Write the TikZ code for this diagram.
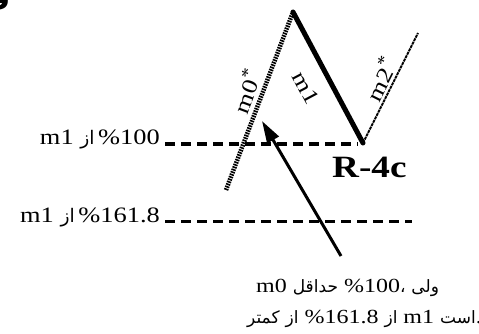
\documentclass[tikz,border=0pt]{standalone}
\usepackage{fontspec}
\setmainfont{Liberation Serif}[FakeStretch=1.2]
\newfontfamily\fa[Script=Arabic,Scale=0.85]{DejaVu Sans}
\usetikzlibrary{arrows.meta}
\newcommand{\bigstar}{\raisebox{0.42em}{\fontsize{17}{17}\selectfont *}}
\tikzset{
  txt/.style={inner sep=0pt, font=\fontsize{20}{24}\selectfont},
  lvl/.style={inner sep=0pt, font=\fontsize{22}{24}\selectfont},
  lbl/.style={inner sep=0pt, font=\fontsize{22}{24}\selectfont},
  dashln/.style={line width=3pt, dash pattern=on 10pt off 6pt},
  hatch/.style={line width=4.5pt, dash pattern=on 1.6pt off 1pt},
  thinhatch/.style={line width=2pt, dash pattern=on 3pt off 0.8pt},
  wave/.style={line width=5pt, line cap=round},
  pointer/.style={line width=3pt, -{Triangle[length=22pt,width=13pt]}}
}
\begin{document}
\begin{tikzpicture}[x=1pt,y=-1pt]
\useasboundingbox (0,0) rectangle (479,334);
% top-left fragment
\node[anchor=base west, inner sep=0pt, font=\fa\bfseries\fontsize{34}{34}\selectfont] (frag) at (-8,4) {و};
% wave points
\coordinate (s0) at (226,190);
\coordinate (p0) at (293,12);
\coordinate (r4) at (363,143);
\coordinate (e2) at (418,33);
\draw[hatch] (s0) -- (p0);
\draw[thinhatch] (r4) -- (e2);
\draw[wave] (p0) -- (r4);
% level labels
\node[lvl, anchor=base east] (lv1) at (160,145) {m1 {\fa از}\,\%100};
\node[lvl, anchor=base east] (lv2) at (160,222) {m1 {\fa از}\,\%161.8};
\coordinate (d1) at (358,144);
\coordinate (d2) at (412,221);
\draw[dashln] ([xshift=5pt,yshift=1pt]lv1.base east) -- (d1);
\draw[dashln] ([xshift=5pt,yshift=1pt]lv2.base east) -- (d2);
% R-4c
\node[inner sep=0pt, anchor=base west, font=\bfseries\fontsize{31}{31}\selectfont] (rc) at (332,177) {R-4c};
% segment labels
\node[lbl, rotate=69.4] (lm0) at (246,91) {m0\bigstar};
\node[lbl, rotate=-62] (lm1) at (306,88) {m1};
\node[lbl, rotate=63.4] (lm2) at (380,79) {m2\bigstar};
% arrow
\coordinate (atail) at (341,256);
\coordinate (ahead) at (262,121);
\draw[pointer] (atail) -- (ahead);
% note
\node[txt, anchor=base west] (n1) at (256,292) {m0 {\fa حداقل} \%100{\fa ،} {\fa ولی}};
\node[txt, anchor=base west] (n2) at (247,323) {{\fa کمتر} {\fa از} \%161.8 {\fa از} m1 {\fa است}.};
\end{tikzpicture}
\end{document}
